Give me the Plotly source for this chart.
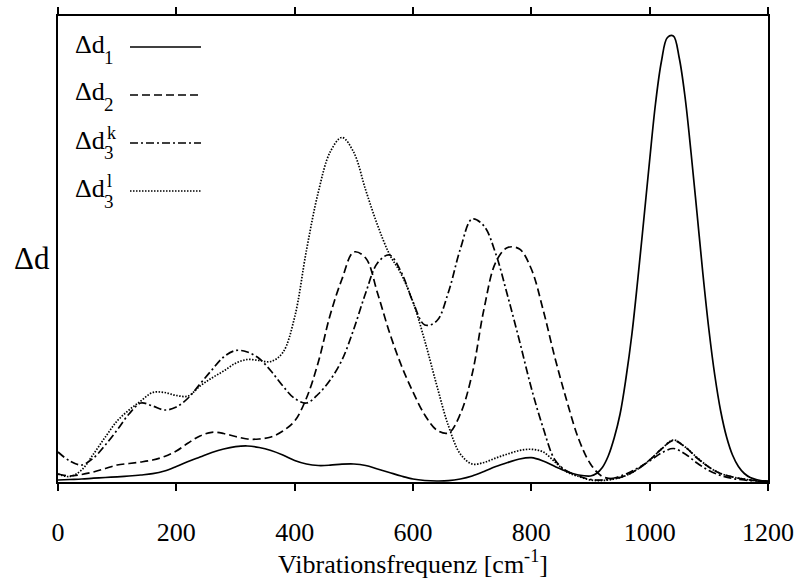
import plotly.graph_objects as go

# Vibrational frequency grid [cm^-1]
freq = list(range(0, 1201, 20))
# Finer grid for Δd1 across its narrow high-frequency band
freq_d1 = list(range(0, 900, 20)) + list(range(900, 1201, 10))

# Δd1 (solid)
dd1 = [2, 2.5, 3, 3.8, 4.5, 5.2, 6, 7, 8.3, 11,
       15.5, 20.5, 25, 29.5, 33, 35.3, 36, 34.5, 31.5, 27,
       21.5, 18, 16.5, 16.8, 17.8, 18, 16.5, 13, 9.5, 6,
       3, 1.5, 1, 1.3, 3, 6, 10.5, 15.5, 19.5, 23,
       24.3, 21, 15.5, 10.5, 7,
       6, 8.5, 14.5, 26, 44, 68, 104, 148, 203, 262,
       322, 379, 421, 444.5, 446, 424, 384, 329, 269, 208,
       153, 107, 71, 45, 27, 15.5, 8.5, 4.5, 2.5, 1.2,
       0.5]

# Δd2 (dashed)
dd2 = [8, 6, 7.5, 10, 13.5, 17, 18.5, 20, 22, 25.5,
       31, 39, 46, 49.7, 48.5, 45.5, 43, 43, 45, 51,
       61, 84, 120, 167, 203, 230, 224, 189, 150, 117,
       90, 67, 52, 49, 68, 108, 173, 220, 234.5, 233,
       213, 172, 124, 81, 43, 18, 5.5, 3.5, 6.5, 13,
       22, 33, 41.5, 35, 24, 15, 8.5, 5, 2.8, 1.5,
       1]

# Δd3^k (dash-dot)
dd3k = [30, 21, 17, 24, 37, 52, 68, 79, 76, 72,
        75, 84, 98, 112, 125, 131.5, 130, 123.5, 111, 96,
        83.5, 79, 88, 102, 122, 153, 189, 219, 227, 210,
        180, 157, 161, 190, 233, 263, 256, 228, 186, 141,
        94, 54, 22, 11, 6, 2.5, 2, 4, 8, 14,
        21, 29, 33.5, 28, 19, 11.5, 6.5, 3.5, 2, 1,
        0.5]

# Δd3^l (dotted)
dd3l = [8, 5.5, 12, 28, 45, 61, 72, 81, 89.5, 89.5,
        86.5, 86, 96, 104, 111, 118.7, 122.5, 121.5, 120.5, 129.5,
        165, 232, 290, 330, 344.5, 329.5, 292, 257, 228, 208,
        180, 141, 97, 56, 28, 18, 19.5, 24, 28, 31.5,
        32.7, 30, 20, 10, 5.5, 2, 1.5, 3, 6.5, 13,
        22, 33, 42, 35, 24.5, 15, 8.5, 5, 2.8, 1.5,
        1]

xticks = [0, 200, 400, 600, 800, 1000, 1200]

SERIF = "Liberation Serif, Times New Roman, DejaVu Serif, serif"
LW = 1.7

styles = [
    ("Δd1", freq_d1, dd1, "solid"),
    ("Δd2", freq, dd2, "8px,4px"),
    ("Δd3k", freq, dd3k, "8px,3px,2px,3px"),
    ("Δd3l", freq, dd3l, "1.5px,1.5px"),
]

fig = go.Figure()
for name, xs, ys, dash in styles:
    fig.add_trace(go.Scatter(
        x=xs, y=ys, mode="lines", name=name,
        line=dict(color="black", width=LW, dash=dash, shape="spline", smoothing=1.0),
        showlegend=False, hoverinfo="skip"))

# Plot area in pixels (for the hand-placed legend)
L, R, T, B = 58, 31, 16, 97
W, H = 799, 579
pw, ph = W - L - R, H - T - B

def px2paper(px, py):
    return (px - L) / pw, (H - B - py) / ph

# (subscript, superscript, dash, row y in px)
legend_rows = [
    ("1", None, "solid", 47),
    ("2", None, "8px,4px", 95),
    ("3", "k", "8px,3px,2px,3px", 143),
    ("3", "l", "1.5px,1.5px", 191),
]

def note(text, px, py, size):
    x, y = px2paper(px, py)
    return dict(text=text, xref="paper", yref="paper", x=x, y=y,
                xanchor="left", yanchor="middle", showarrow=False, borderpad=0,
                font=dict(family=SERIF, size=size, color="black"))

shapes = []
annotations = []
for sub, sup, dash, py in legend_rows:
    x0, y0 = px2paper(130, py)
    x1, _ = px2paper(201, py)
    shapes.append(dict(type="line", xref="paper", yref="paper",
                       x0=x0, x1=x1, y0=y0, y1=y0,
                       line=dict(color="black", width=LW, dash=dash)))
    annotations.append(note("Δd", 74, py - 3, 26))
    annotations.append(note(sub, 103, py + 10, 19))
    if sup:
        annotations.append(note(sup, 106, py - 10, 18))

# y-axis label, written horizontally
annotations.append(dict(text="Δd", xref="paper", yref="paper",
                        x=0, y=0.48, xanchor="right", yanchor="middle", xshift=-6,
                        showarrow=False, font=dict(family=SERIF, size=31, color="black")))

fig.update_layout(
    width=W, height=H,
    margin=dict(l=L, r=R, t=T, b=B, autoexpand=False),
    paper_bgcolor="white", plot_bgcolor="white",
    font=dict(family=SERIF, size=26, color="black"),
    showlegend=False,
    shapes=shapes,
    annotations=annotations,
    xaxis=dict(
        range=[0, 1200], tickvals=xticks, ticktext=[str(v) for v in xticks],
        ticks="outside", ticklen=7, tickwidth=1.5, tickcolor="black",
        showline=True, linewidth=2, linecolor="black", mirror="allticks",
        showgrid=False, zeroline=False, automargin=False,
        tickfont=dict(family=SERIF, size=26),
        ticklabelstandoff=19,
        title=dict(text="Vibrationsfrequenz [cm<sup>-1</sup>]",
                   font=dict(family=SERIF, size=26), standoff=3),
    ),
    yaxis=dict(
        range=[0, 466], showticklabels=False, ticks="",
        showline=True, linewidth=2, linecolor="black", mirror=True,
        showgrid=False, zeroline=False, automargin=False,
    ),
)

fig.write_html("out.html")
